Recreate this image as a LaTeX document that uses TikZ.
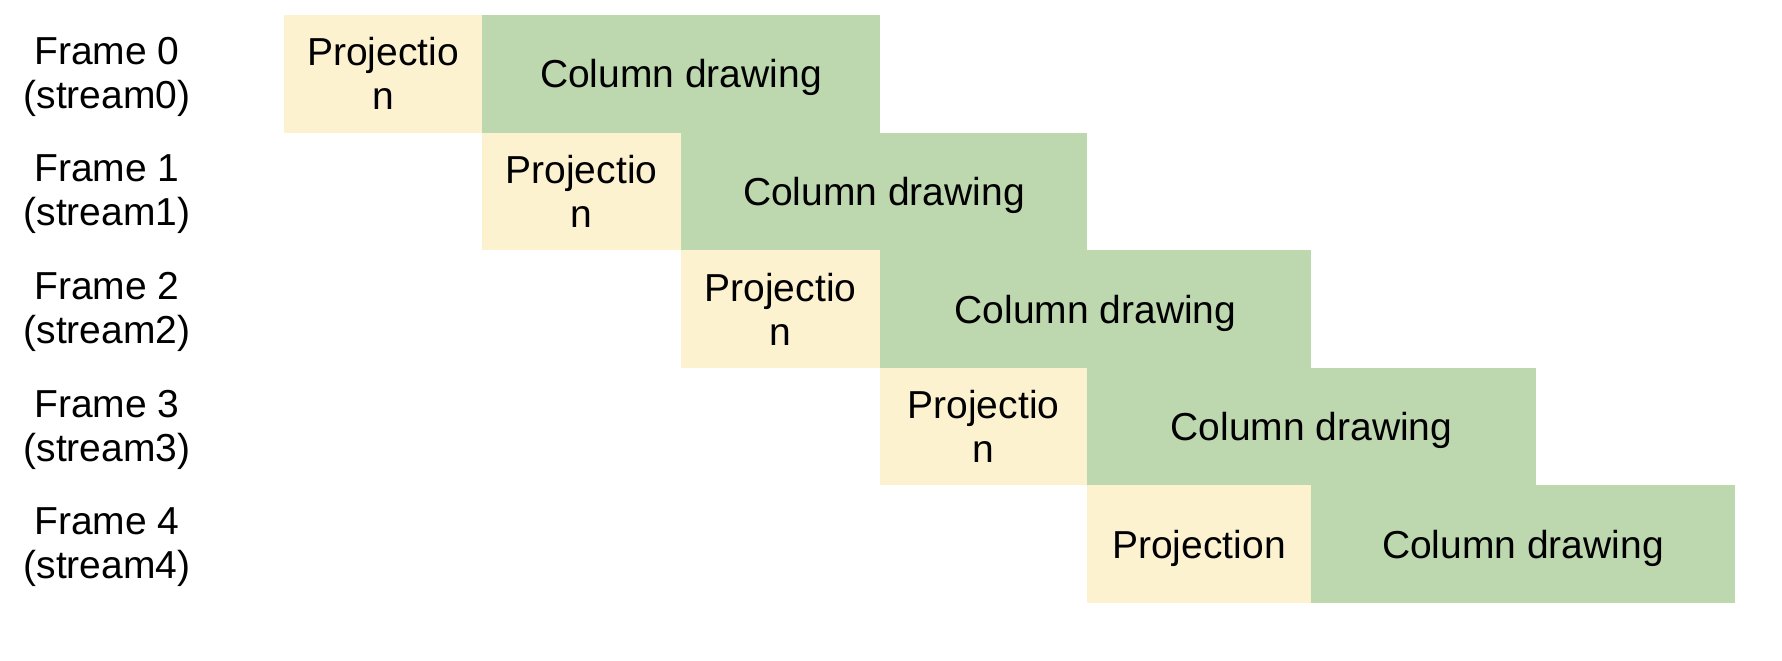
\documentclass[tikz,border=0pt]{standalone}
\usepackage{fontspec}
\setmainfont{Liberation Sans}
\usetikzlibrary{positioning}
\definecolor{projfill}{HTML}{FDF2D0}
\definecolor{colfill}{HTML}{BDD7AE}
\tikzset{
  stagebox/.style={inner sep=0pt, outer sep=0pt, minimum height=58.8pt,
    text depth=0pt, align=center, font=\fontsize{19.5}{22}\selectfont},
  projbox/.style={stagebox, fill=projfill},
  colbox/.style={stagebox, fill=colfill},
  framelabel/.style={align=center, font=\fontsize{19.5}{22}\selectfont}
}
\begin{document}
\begin{tikzpicture}[x=0.5pt,y=-0.5pt]
  \useasboundingbox (0,0) rectangle (1782,660);

  % one row per frame: projection start / column start / column end
  \foreach \i/\a/\b/\c/\t in {0/284/482/880/Projectio\\n,
                              1/482/681/1087/Projectio\\n,
                              2/681/880/1311/Projectio\\n,
                              3/880/1087/1536/Projectio\\n,
                              4/1087/1311/1735/Projection}{
    \node[projbox, anchor=north west, minimum width={(\b-\a)*0.5pt}]
      (proj\i) at (\a,{15+117.6*\i}) {\t};
    \node[colbox, anchor=west, minimum width={(\c-\b)*0.5pt}]
      (col\i) at (proj\i.east) {Column drawing};
    \node[framelabel] (frame\i) at (107,{77+117.6*\i}) {Frame \i\\(stream\i)};
  }
\end{tikzpicture}
\end{document}
